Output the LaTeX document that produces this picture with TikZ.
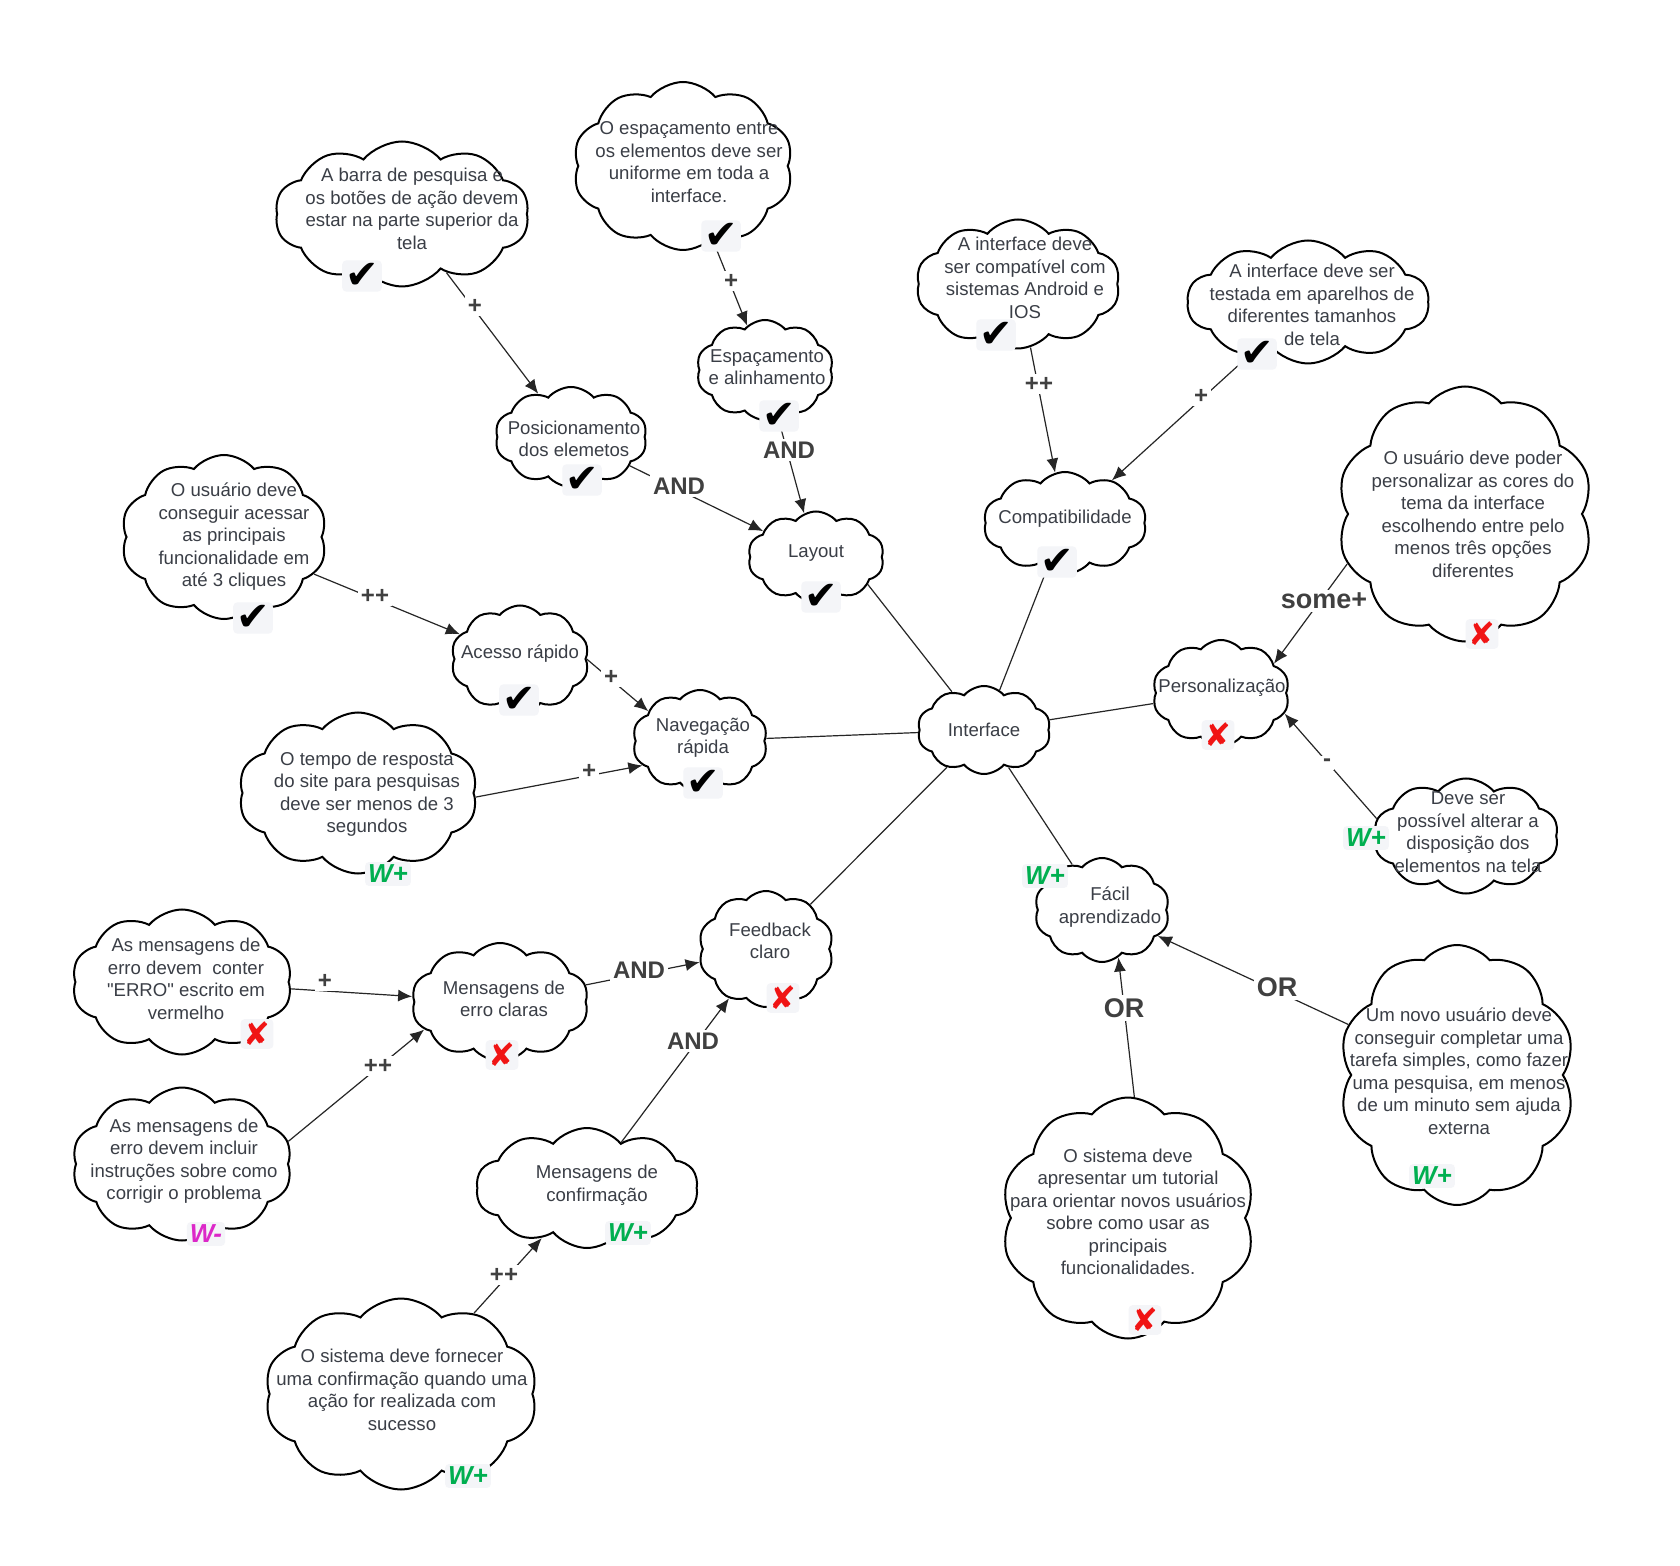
\documentclass[tikz,border=0pt]{standalone}
\usepackage{fontspec}
\setmainfont{Liberation Sans}
\newfontfamily\symfont{DejaVu Sans}
\newfontfamily\qfont{Liberation Sans}
\usetikzlibrary{shapes.symbols,arrows.meta}
\definecolor{txt}{RGB}{58,62,70}
\definecolor{lbl}{RGB}{64,64,64}
\definecolor{okgreen}{RGB}{0,175,80}
\definecolor{xred}{RGB}{240,20,20}
\definecolor{wmag}{RGB}{220,40,200}
\definecolor{markbg}{RGB}{244,245,248}
\tikzset{
 cl/.style={cloud, draw=black, line width=1pt, cloud puffs=10, cloud puff arc=100, cloud ignores aspect, inner sep=0pt},
 tx/.style={align=center, text=txt, font=\fontsize{9.3}{11.25}\selectfont, inner sep=0pt},
 con/.style={draw=black!85, line width=0.6pt},
 arr/.style={con, -{Latex[length=7pt,width=6pt]}},
 lab/.style={fill=white, text=lbl, font=\bfseries\fontsize{12}{12}\selectfont, inner sep=1.5pt},
 bigl/.style={lab, font=\bfseries\fontsize{13.5}{13.5}\selectfont},
 mk/.style={fill=markbg, rounded corners=2pt, inner sep=1.5pt},
}
\newcommand\okmark{{\symfont\fontsize{20}{20}\selectfont ✔}}
\newcommand\xmark{{\symfont\color{xred}\fontsize{16}{16}\selectfont ✘}}
\newcommand\wplus{{\color{okgreen}\bfseries\itshape\fontsize{13}{13}\selectfont W+}}
\newcommand\wminus{{\color{wmag}\bfseries\itshape\fontsize{13}{13}\selectfont W-}}
\begin{document}
\begin{tikzpicture}[x=0.5pt,y=-0.5pt]
\useasboundingbox[fill=white] (0,0) rectangle (1680,1566);
% clouds
\node[cl, minimum width=127pt, minimum height=72.5pt] (barra) at (402,214) {};
\node[cl, minimum width=110pt, minimum height=84pt] (espEntre) at (683,166) {};
\node[cl, minimum width=68.5pt, minimum height=50pt] (espAlin) at (765,370) {};
\node[cl, minimum width=76pt, minimum height=50pt] (posic) at (571,437) {};
\node[cl, minimum width=68pt, minimum height=45.5pt] (layout) at (816,557) {};
\node[cl, minimum width=102pt, minimum height=64.5pt] (compreq) at (1018,284) {};
\node[cl, minimum width=121pt, minimum height=61.5pt] (testada) at (1308,302) {};
\node[cl, minimum width=81.5pt, minimum height=51pt] (compat) at (1065,523) {};
\node[cl, minimum width=128pt, minimum height=127.5pt] (persreq) at (1465,514) {};
\node[cl, minimum width=68.5pt, minimum height=53pt] (person) at (1221,693) {};
\node[cl, minimum width=92.5pt, minimum height=57.5pt] (deveser) at (1466,836) {};
\node[cl, minimum width=66.5pt, minimum height=44pt] (interface) at (984,730) {};
\node[cl, minimum width=67.5pt, minimum height=52pt] (facil) at (1102,910) {};
\node[cl, minimum width=118pt, minimum height=130pt] (novo) at (1457,1075) {};
\node[cl, minimum width=127pt, minimum height=120.5pt] (tutorial) at (1128,1218) {};
\node[cl, minimum width=67.5pt, minimum height=58pt] (feedback) at (766,949) {};
\node[cl, minimum width=88.5pt, minimum height=59pt] (erroclaras) at (500,1002) {};
\node[cl, minimum width=111pt, minimum height=60pt] (confirm) at (587,1188) {};
\node[cl, minimum width=136.5pt, minimum height=95.5pt] (fornecer) at (401,1394) {};
\node[cl, minimum width=110pt, minimum height=72.5pt] (conter) at (182,982) {};
\node[cl, minimum width=110pt, minimum height=76.5pt] (incluir) at (182,1164) {};
\node[cl, minimum width=67.5pt, minimum height=51pt] (naveg) at (700,741) {};
\node[cl, minimum width=69pt, minimum height=53.5pt] (acesso) at (520,659) {};
\node[cl, minimum width=103pt, minimum height=82pt] (acessar) at (224,537) {};
\node[cl, minimum width=119.5pt, minimum height=80.5pt] (tempo) at (358,793) {};
% connectors
\draw[arr] (barra) -- (posic);
\draw[arr] (espEntre) -- (espAlin);
\draw[arr] (posic) -- (layout);
\draw[arr] (espAlin) -- (layout);
\draw[con] (layout.-28) -- (interface.130);
\draw[con] (compat) -- (interface);
\draw[arr] (compreq) -- (compat);
\draw[arr] (testada) -- (compat);
\draw[arr] (persreq.203) -- (person.29);
\draw[arr] (deveser.169) -- (person.-18);
\draw[con] (person) -- (interface);
\draw[con] (facil) -- (interface);
\draw[arr] (novo) -- (facil);
\draw[arr] (tutorial.87) -- (facil.-71);
\draw[con] (feedback) -- (interface);
\draw[arr] (erroclaras) -- (feedback);
\draw[arr] (confirm) -- (feedback);
\draw[arr] (conter) -- (erroclaras);
\draw[arr] (incluir.12) -- (erroclaras.200);
\draw[arr] (fornecer) -- (confirm);
\draw[con] (naveg) -- (interface);
\draw[arr] (acesso.0) -- (naveg.150);
\draw[arr] (tempo.-2) -- (naveg.203);
\draw[arr] (acessar) -- (acesso);
% labels
\node[lab] (l1) at (475,306) {+};
\node[lab] (l2) at (731,281) {+};
\node[lab] (l3) at (679,486) {AND};
\node[lab] (l4) at (789,450) {AND};
\node[lab] (l5) at (1039,384) {++};
\node[lab] (l6) at (1201,396) {+};
\node[bigl] (l7) at (1324,601) {some+};
\node[lab] (l8) at (1327,763) {-};
\node[bigl] (l9) at (1277,987) {OR};
\node[bigl] (l10) at (1124,1008) {OR};
\node[lab] (l11) at (639,970) {AND};
\node[lab] (l12) at (693,1041) {AND};
\node[lab] (l13) at (325,981) {+};
\node[lab] (l14) at (378,1066) {++};
\node[lab] (l15) at (504,1275) {++};
\node[lab] (l16) at (611,677) {+};
\node[lab] (l17) at (589,771) {+};
\node[lab] (l18) at (375,596) {++};
% marks
\node[mk] (m1) at (362,276) {\okmark};
\node[mk] (m2) at (721,236) {\okmark};
\node[mk] (m3) at (779,416) {\okmark};
\node[mk] (m4) at (582,480) {\okmark};
\node[mk] (m5) at (821,597) {\okmark};
\node[mk] (m6) at (996,335) {\okmark};
\node[mk] (m7) at (1257,354) {\okmark};
\node[mk] (m8) at (1057,562) {\okmark};
\node[mk] (m9) at (253,618) {\okmark};
\node[mk] (m10) at (519,700) {\okmark};
\node[mk] (m11) at (703,783) {\okmark};
\node[mk] (m12) at (1482,634) {\xmark};
\node[mk] (m13) at (1218,735) {\xmark};
\node[mk] (m14) at (1366,838) {\wplus};
\node[mk] (m15) at (1045,876) {\wplus};
\node[mk] (m16) at (1432,1176) {\wplus};
\node[mk] (m17) at (1145,1320) {\xmark};
\node[mk] (m18) at (783,998) {\xmark};
\node[mk] (m19) at (502,1055) {\xmark};
\node[mk] (m20) at (257,1034) {\xmark};
\node[mk] (m21) at (206,1234) {\wminus};
\node[mk] (m22) at (628,1233) {\wplus};
\node[mk] (m23) at (468,1476) {\wplus};
\node[mk] (m24) at (388,874) {\wplus};
% texts
\node[tx] (barra-t) at (412,209) {A barra de pesquisa e\\os botões de ação devem\\estar na parte superior da\\tela};
\node[tx] (espEntre-t) at (689,162) {O espaçamento entre\\os elementos deve ser\\uniforme em toda a\\interface.};
\node[tx] (espAlin-t) at (767,367) {Espaçamento\\e alinhamento};
\node[tx] (posic-t) at (574,439) {Posicionamento\\dos elemetos};
\node[tx] (layout-t) at (816,553) {Layout};
\node[tx] (compreq-t) at (1025,278) {A interface deve\\ser compatível com\\sistemas Android e\\IOS};
\node[tx] (testada-t) at (1312,305) {A interface deve ser\\testada em aparelhos de\\diferentes tamanhos\\de tela};
\node[tx] (compat-t) at (1065,519) {Compatibilidade};
\node[tx] (persreq-t) at (1473,514) {O usuário deve poder\\personalizar as cores do\\tema da interface\\escolhendo entre pelo\\menos três opções\\diferentes};
\node[tx] (person-t) at (1222,688) {Personalização};
\node[tx] (deveser-t) at (1468,832) {Deve ser\\possível alterar a\\disposição dos\\elementos na tela};
\node[tx] (interface-t) at (984,730) {Interface};
\node[tx] (facil-t) at (1110,907) {Fácil\\aprendizado};
\node[tx] (novo-t) at (1459,1071) {Um novo usuário deve\\conseguir completar uma\\tarefa simples, como fazer\\uma pesquisa, em menos\\de um minuto sem ajuda\\externa};
\node[tx] (tutorial-t) at (1128,1212) {O sistema deve\\apresentar um tutorial\\para orientar novos usuários\\sobre como usar as\\principais\\funcionalidades.};
\node[tx] (feedback-t) at (770,941) {Feedback\\claro};
\node[tx] (erroclaras-t) at (504,999) {Mensagens de\\erro claras};
\node[tx] (confirm-t) at (597,1185) {Mensagens de\\confirmação};
\node[tx] (fornecer-t) at (402,1390) {O sistema deve fornecer\\uma confirmação quando uma\\ação for realizada com\\sucesso};
\node[tx] (conter-t) at (186,979) {As mensagens de\\erro devem\ \ conter\\{\qfont"}ERRO{\qfont"} escrito em\\vermelho};
\node[tx] (incluir-t) at (184,1161) {As mensagens de\\erro devem incluir\\instruções sobre como\\corrigir o problema};
\node[tx] (naveg-t) at (703,738) {Navegação\\rápida};
\node[tx] (acesso-t) at (520,654) {Acesso rápido};
\node[tx] (acessar-t) at (234,537) {O usuário deve\\conseguir acessar\\as principais\\funcionalidade em\\até 3 cliques};
\node[tx] (tempo-t) at (367,794) {O tempo de resposta\\do site para pesquisas\\deve ser menos de 3\\segundos};
\end{tikzpicture}
\end{document}
